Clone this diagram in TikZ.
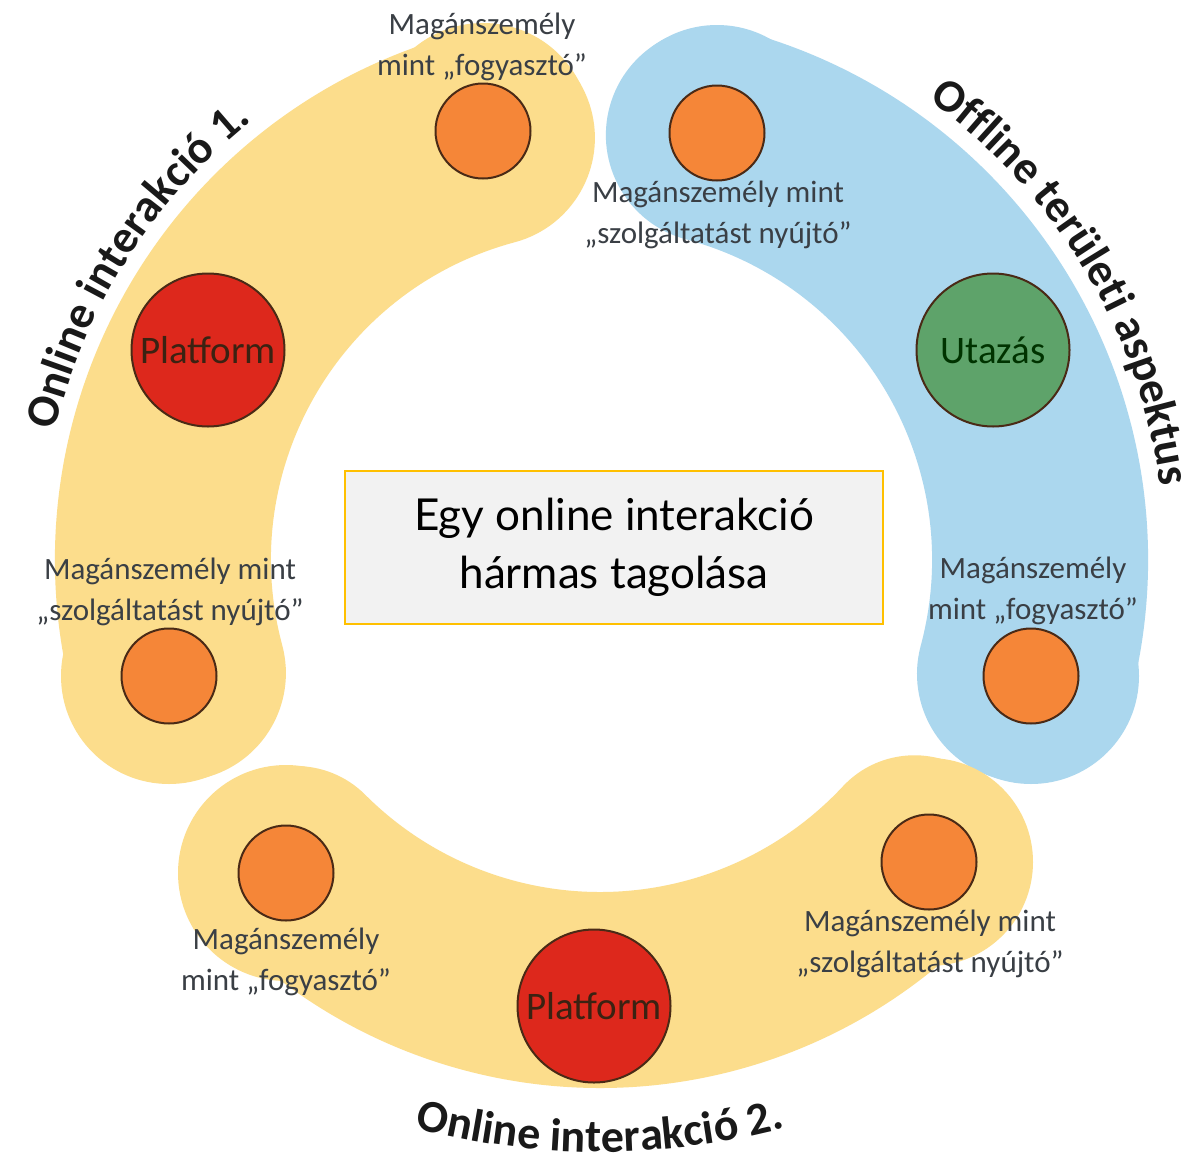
\documentclass[tikz,border=0pt]{standalone}
\usepackage{fontspec}
\setmainfont{Carlito}
\newfontfamily\boxfont{Lato}
\usetikzlibrary{decorations.text}
\definecolor{bandY}{HTML}{FCDD8C}
\definecolor{bandB}{HTML}{ABD7EE}
\definecolor{orangeC}{HTML}{F58638}
\definecolor{redC}{HTML}{DD281C}
\definecolor{greenC}{HTML}{5EA36A}
\definecolor{rimC}{HTML}{4A2A16}
\definecolor{lblC}{HTML}{3A3F45}
\definecolor{boxFill}{HTML}{F2F2F2}
\definecolor{boxRim}{HTML}{FFC000}
\newcommand\curvefont{\bfseries\fontsize{46}{46}\selectfont}
\tikzset{
  smallc/.style={circle, draw=rimC, line width=2pt, fill=orangeC, minimum size=95pt, inner sep=0pt},
  bigc/.style={circle, draw=rimC, line width=2pt, minimum size=153pt, inner sep=0pt, font=\fontsize{39}{39}\selectfont},
  lbl/.style={align=center, inner sep=0pt, text=lblC, font=\fontsize{31}{41}\selectfont},
  band/.style={line cap=round},
  curved/.style={decorate, decoration={text along path, text align=center, text color=black!90}}
}
\begin{document}
\begin{tikzpicture}[x=1pt,y=1pt]
\useasboundingbox (0,0) rectangle (1194,-1162);
\fill[white] (0,0) rectangle (1194,-1162);
\coordinate (C) at (600,-560);
\coordinate (Cb) at (600,-430);

% bands
\draw[band, bandY, line width=216pt] ([shift={(105:437)}]C) arc (105:195:437);
\fill[bandY] (483,-131) circle (108);
\fill[bandY] (169,-676) circle (108);
\draw[band, bandB, line width=216pt] ([shift={(75:440)}]C) arc (75:-15:440);
\fill[bandB] (717,-133) circle (108);
\fill[bandB] (1031,-676) circle (108);
\draw[band, bandY, line width=196pt] ([shift={(225:430)}]C) arc (225:317:430);
\fill[bandY] (286,-873) circle (108);
\fill[bandY] (929,-862) circle (104);

% circles
\node[smallc] (o1) at (483,-131) {};
\node[bigc, fill=redC, text=rimC!80!black] (p1) at (208,-350) {Platform};
\node[smallc] (o2) at (169,-676) {};
\node[smallc] (o3) at (717,-133) {};
\node[bigc, fill=greenC, text=green!20!black] (u) at (993,-350) {Utazás};
\node[smallc] (o4) at (1031,-676) {};
\node[smallc] (o5) at (286,-873) {};
\node[bigc, fill=redC, text=rimC!80!black] (p2) at (594,-1006) {Platform};
\node[smallc] (o6) at (929,-862) {};

% labels
\node[lbl] (l1) at (482,-47) {Magánszemély\\mint „fogyasztó”};
\node[lbl] (l2) at (718,-215) {Magánszemély mint\\„szolgáltatást nyújtó”};
\node[lbl] (l3) at (170,-592) {Magánszemély mint\\„szolgáltatást nyújtó”};
\node[lbl] (l4) at (1033,-591) {Magánszemély\\mint „fogyasztó”};
\node[lbl] (l5) at (286,-962) {Magánszemély\\mint „fogyasztó”};
\node[lbl] (l6) at (930,-944) {Magánszemély mint\\„szolgáltatást nyújtó”};

% centre box
\node[draw=boxRim, fill=boxFill, line width=2pt, minimum width=538pt, minimum height=153pt, inner sep=0pt, align=center, font=\boxfont\fontsize{44}{58}\selectfont] (box) at (614,-547.5) {Egy online interakció\\hármas tagolása};

% curved titles
\path[curved, decoration={text={|\curvefont|Online interakció 1.}}] ([shift={(195:560)}]C) arc (195:100:560);
\path[curved, decoration={text={|\curvefont|Offline területi aspektus}}] ([shift={(80:565)}]C) arc (80:-18:565);
\path[curved, decoration={text={|\curvefont|Online interakció 2.}}] ([shift={(245:722)}]Cb) arc (245:295:722);
\end{tikzpicture}
\end{document}
